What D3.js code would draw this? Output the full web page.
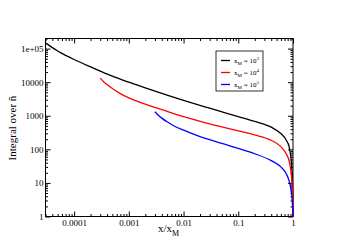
<!DOCTYPE html>
<html>
<head>
<meta charset="utf-8">
<script src="https://cdn.jsdelivr.net/npm/d3@7"></script>
<style>
  body { margin: 0; background: #fff; }
  text { font-family: "Liberation Serif", "DejaVu Serif", serif; fill: #000; }
</style>
</head>
<body>
<svg id="chart" width="351" height="248"></svg>
<script>
// values
var xBlack = [3e-5, 4e-5, 5e-5, 7e-5, 1e-4, 2e-4, 3e-4, 5e-4, 1e-3, 2e-3, 5e-3, 1e-2, 3e-2, 0.1, 0.2, 0.4, 0.6, 0.75, 0.85, 0.92, 0.96, 0.985, 0.995, 1];
var yBlack = [148000, 107000, 85000, 63000, 47300, 28500, 21400, 15100, 10000, 6760, 4120, 2880, 1680, 944, 676, 457, 295, 190, 120, 52, 22, 7, 2.5, 1];

var xRed = [3e-4, 3.5e-4, 4e-4, 5e-4, 7e-4, 1e-3, 2e-3, 5e-3, 1e-2, 3e-2, 0.1, 0.2, 0.4, 0.6, 0.75, 0.85, 0.92, 0.96, 0.985, 0.995, 1];
var yRed = [13200, 10200, 8500, 6460, 4570, 3390, 2210, 1350, 944, 575, 355, 269, 186, 120, 74, 45, 21, 10, 3.5, 1.8, 1];

var xBlue = [3e-3, 3.5e-3, 4e-3, 5e-3, 7e-3, 1e-2, 2e-2, 5e-2, 0.1, 0.2, 0.4, 0.6, 0.75, 0.85, 0.92, 0.96, 0.985, 1];
var yBlue = [1320, 1020, 850, 660, 480, 372, 240, 151, 107, 74, 46, 30, 19, 11.5, 6.3, 3.5, 1.8, 1];

var seriesNames = ["3", "4", "5"];          // exponent shown in legend, x_M = 10^n
var seriesColors = ["#000000", "#ff0000", "#0000ff"];

var xTicks = [1e-4, 1e-3, 1e-2, 0.1, 1];
var xTickLabels = ["0.0001", "0.001", "0.01", "0.1", "1"];
var yTicks = [1, 10, 100, 1000, 10000, 1e5];
var yTickLabels = ["1", "10", "100", "1000", "10000", "1e+05"];

var margin = {top: 38.5, right: 58, bottom: 31.5, left: 45.5};
var svg = d3.select("#chart"),
    width = +svg.attr("width") - margin.left - margin.right,
    height = +svg.attr("height") - margin.top - margin.bottom;

var x = d3.scaleLog().domain([3e-5, 1]).range([0, width]);
var y = d3.scaleLog().domain([1, 2e5]).range([height, 0]);

function minorTicks(lo, hi) {
  var out = [];
  for (var e = Math.floor(Math.log10(lo)); e < Math.ceil(Math.log10(hi)); e++) {
    for (var m = 2; m <= 9; m++) {
      var v = m * Math.pow(10, e);
      if (v >= lo && v <= hi) out.push(v);
    }
  }
  return out;
}

var g = svg.append("g").attr("transform", "translate(" + margin.left + "," + margin.top + ")");

// ticks on all four sides, pointing inward
function drawAxis(axis, tr, labels) {
  var a = g.append("g").attr("transform", tr).call(axis);
  a.select(".domain").remove();
  a.selectAll("line").attr("stroke", "#000").attr("stroke-width", 1);
  a.selectAll("text").style("font-family", "Liberation Serif").style("font-size", "9px");
  if (!labels) a.selectAll("text").remove();
  return a;
}

var fmtX = function(d) { return xTickLabels[xTicks.indexOf(d)]; };
var fmtY = function(d) { return yTickLabels[yTicks.indexOf(d)]; };

drawAxis(d3.axisBottom(x).tickValues(xTicks).tickFormat(fmtX).tickSize(-5).tickPadding(3), "translate(0," + height + ")", true);
drawAxis(d3.axisBottom(x).tickValues(minorTicks(3e-5, 1)).tickSize(-2.5), "translate(0," + height + ")", false);
drawAxis(d3.axisTop(x).tickValues(xTicks).tickSize(-5), "translate(0,0)", false);
drawAxis(d3.axisTop(x).tickValues(minorTicks(3e-5, 1)).tickSize(-2.5), "translate(0,0)", false);

drawAxis(d3.axisLeft(y).tickValues(yTicks).tickFormat(fmtY).tickSize(-5).tickPadding(2), "translate(0,0)", true);
drawAxis(d3.axisLeft(y).tickValues(minorTicks(1, 2e5)).tickSize(-2.5), "translate(0,0)", false);
drawAxis(d3.axisRight(y).tickValues(yTicks).tickSize(-5), "translate(" + width + ",0)", false);
drawAxis(d3.axisRight(y).tickValues(minorTicks(1, 2e5)).tickSize(-2.5), "translate(" + width + ",0)", false);

g.append("rect")
  .attr("width", width).attr("height", height)
  .attr("fill", "none").attr("stroke", "#000").attr("stroke-width", 1);

// curves
var line = d3.line()
  .x(function(d) { return x(d[0]); })
  .y(function(d) { return y(d[1]); })
  .curve(d3.curveMonotoneX);

var series = [d3.zip(xBlack, yBlack), d3.zip(xRed, yRed), d3.zip(xBlue, yBlue)];

g.selectAll(".curve")
  .data(series)
  .enter().append("path")
  .attr("class", "curve")
  .attr("d", line)
  .attr("fill", "none")
  .attr("stroke", function(d, i) { return seriesColors[i]; })
  .attr("stroke-width", 1.3);

// legend
var lg = svg.append("g").attr("transform", "translate(216,51)");
lg.append("rect")
  .attr("width", 47).attr("height", 40)
  .attr("fill", "#fff").attr("stroke", "#000").attr("stroke-width", 0.8);

var rows = lg.selectAll(".row")
  .data(seriesNames)
  .enter().append("g")
  .attr("transform", function(d, i) { return "translate(0," + (9.5 + i * 12) + ")"; });

rows.append("line")
  .attr("x1", 5).attr("x2", 14)
  .attr("stroke", function(d, i) { return seriesColors[i]; })
  .attr("stroke-width", 1.3);

var lt = rows.append("text")
  .attr("x", 18).attr("y", 2.5)
  .style("font-size", "7px");
lt.append("tspan").text("x");
lt.append("tspan").attr("dy", 2).style("font-size", "5px").text("M");
lt.append("tspan").attr("dy", -2).text(" = 10");
lt.append("tspan").attr("dy", -3).style("font-size", "5px").text(function(d) { return d; });

// axis titles
var xt = svg.append("text")
  .attr("x", 158).attr("y", 232)
  .style("font-size", "11px");
xt.append("tspan").text("x/x");
xt.append("tspan").attr("dy", 3.5).style("font-size", "8px").text("M");

svg.append("text")
  .attr("transform", "translate(16,128) rotate(-90)")
  .attr("text-anchor", "middle")
  .style("font-size", "11px")
  .text("Integral over ñ");
</script>
</body>
</html>
